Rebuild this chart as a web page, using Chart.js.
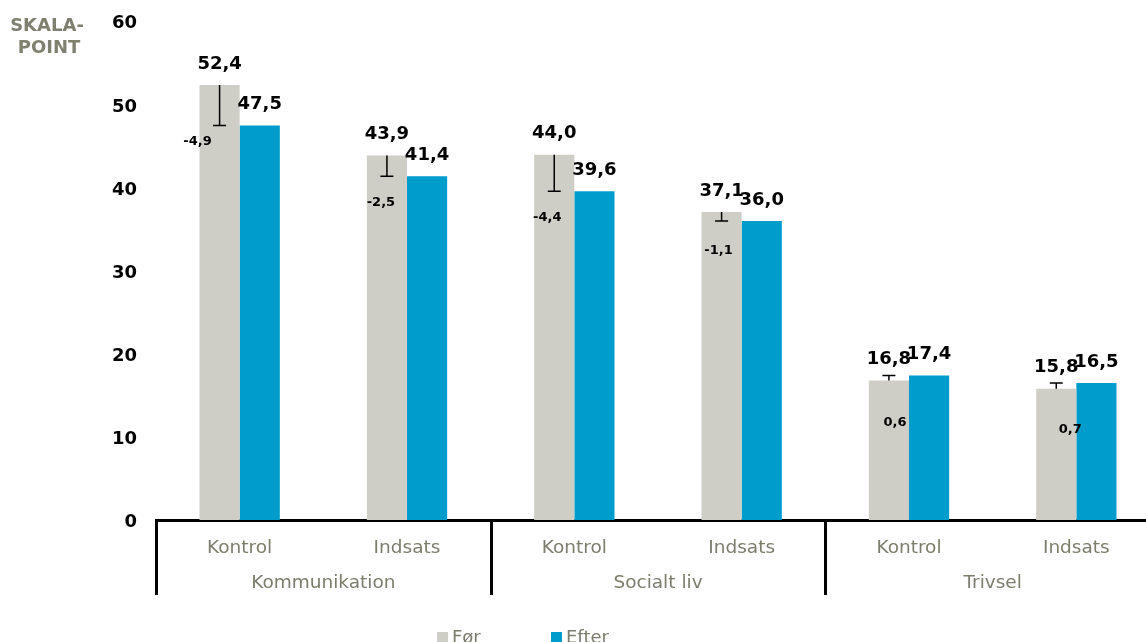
<!DOCTYPE html>
<html>
<head>
<meta charset="utf-8">
<title>Skalapoint før og efter</title>
<script src="https://cdn.jsdelivr.net/npm/chart.js@4.4.1/dist/chart.umd.min.js"></script>
<style>
  html, body { margin: 0; padding: 0; background: #fff; overflow: hidden; }
  #wrap { position: relative; width: 1160px; height: 642px; }
</style>
</head>
<body>
<div id="wrap"><canvas id="chart" width="1160" height="642"></canvas></div>
<script>
// Sub-categories on the x axis and the group each pair belongs to
const categories = ['Kontrol', 'Indsats', 'Kontrol', 'Indsats', 'Kontrol', 'Indsats'];
const groups = ['Kommunikation', 'Socialt liv', 'Trivsel'];
const seriesNames = ['Før', 'Efter'];
// Mean scale points before and after
const forValues = [52.4, 43.9, 44.0, 37.1, 16.8, 15.8];
const efterValues = [47.5, 41.4, 39.6, 36.0, 17.4, 16.5];
const yTicks = [0, 10, 20, 30, 40, 50, 60];

const FONT = '"DejaVu Sans", Verdana, sans-serif';
const GREY = 'rgb(207,206,198)';
const BLUE = 'rgb(0,156,204)';
const MUTED = '#7d7d6d';

const fmt = v => v.toFixed(1).replace('.', ',');

// Draws value labels, change whiskers, change labels, group separators,
// group names, the axis title and the legend.
const annotate = {
  id: 'annotate',
  afterDatasetsDraw(chart, args, opts) {
    const ctx = chart.ctx;
    const y = chart.scales.y;
    const x = chart.scales.x;
    const forMeta = chart.getDatasetMeta(0);
    const efterMeta = chart.getDatasetMeta(1);
    ctx.save();

    // whiskers from the "før" level to the "efter" level
    ctx.strokeStyle = '#000';
    ctx.lineWidth = 1.5;
    forMeta.data.forEach((bar, i) => {
      const y0 = y.getPixelForValue(forValues[i]);
      const y1 = y.getPixelForValue(efterValues[i]);
      ctx.beginPath();
      ctx.moveTo(bar.x, y0);
      ctx.lineTo(bar.x, y1);
      ctx.moveTo(bar.x - 6.5, y1);
      ctx.lineTo(bar.x + 6.5, y1);
      ctx.stroke();
    });

    // change labels
    ctx.fillStyle = '#000';
    ctx.font = 'bold 13px ' + FONT;
    ctx.textAlign = 'center';
    ctx.textBaseline = 'middle';
    forMeta.data.forEach((bar, i) => {
      const d = efterValues[i] - forValues[i];
      const n = opts.changeNudge[i];
      ctx.fillText(fmt(d), bar.x + n[0], y.getPixelForValue(efterValues[i]) + n[1]);
    });

    // value labels above bars
    ctx.font = 'bold 18px ' + FONT;
    [[forMeta, forValues], [efterMeta, efterValues]].forEach(([meta, vals]) => {
      meta.data.forEach((bar, i) => {
        ctx.fillText(fmt(vals[i]), bar.x, y.getPixelForValue(vals[i]) - 21);
      });
    });

    // group separators and group names
    const half = (x.getPixelForValue(1) - x.getPixelForValue(0)) / 2;
    const top = chart.chartArea.bottom;
    ctx.strokeStyle = '#000';
    ctx.lineWidth = 3;
    for (let g = 0; g <= groups.length; g++) {
      const px = Math.round(x.getPixelForValue(g * 2) - half) + 0.5;
      ctx.beginPath();
      ctx.moveTo(px, top);
      ctx.lineTo(px, 595);
      ctx.stroke();
    }
    ctx.fillStyle = MUTED;
    ctx.font = '18.5px ' + FONT;
    groups.forEach((name, g) => {
      const cx = (x.getPixelForValue(g * 2) + x.getPixelForValue(g * 2 + 1)) / 2;
      ctx.fillText(name, cx, 583);
    });

    // axis title
    ctx.font = 'bold 18px ' + FONT;
    ctx.fillStyle = '#808070';
    ctx.fillText('SKALA-', 47, 26);
    ctx.fillText('POINT', 49, 48);

    // legend
    ctx.textAlign = 'left';
    ctx.textBaseline = 'alphabetic';
    ctx.font = '18px ' + FONT;
    [[GREY, seriesNames[0], 437], [BLUE, seriesNames[1], 551]].forEach(([c, t, lx]) => {
      ctx.fillStyle = c;
      ctx.fillRect(lx, 632, 11, 11);
      ctx.fillStyle = MUTED;
      ctx.fillText(t, lx + 15, 643);
    });
    ctx.restore();
  }
};

new Chart(document.getElementById('chart'), {
  type: 'bar',
  data: {
    labels: categories,
    datasets: [
      { label: seriesNames[0], data: forValues, backgroundColor: GREY },
      { label: seriesNames[1], data: efterValues, backgroundColor: BLUE }
    ]
  },
  options: {
    responsive: false,
    animation: false,
    events: [],
    layout: { padding: { top: 17, left: 0, right: 0, bottom: 0 } },
    datasets: { bar: { categoryPercentage: 0.48, barPercentage: 1.0 } },
    plugins: {
      legend: { display: false },
      tooltip: { enabled: false },
      annotate: {
        changeNudge: [[-22, 16], [-6, 26], [-7, 26], [-3, 30], [6, 47], [14, 47]]
      }
    },
    scales: {
      x: {
        grid: { display: false },
        border: { display: true, color: '#000', width: 3 },
        ticks: { color: MUTED, font: { family: FONT, size: 18.5 }, padding: 9, maxRotation: 0, autoSkip: false },
        afterFit(s) { s.height = 122; }
      },
      y: {
        min: 0,
        max: 60,
        afterBuildTicks(s) { s.ticks = yTicks.map(v => ({ value: v })); },
        grid: { display: false },
        border: { display: false },
        ticks: { color: '#000', font: { family: FONT, size: 18, weight: 'bold' }, padding: 11, labelOffset: 2 },
        afterFit(s) { s.width = 156; }
      }
    }
  },
  plugins: [annotate]
});
</script>
</body>
</html>
